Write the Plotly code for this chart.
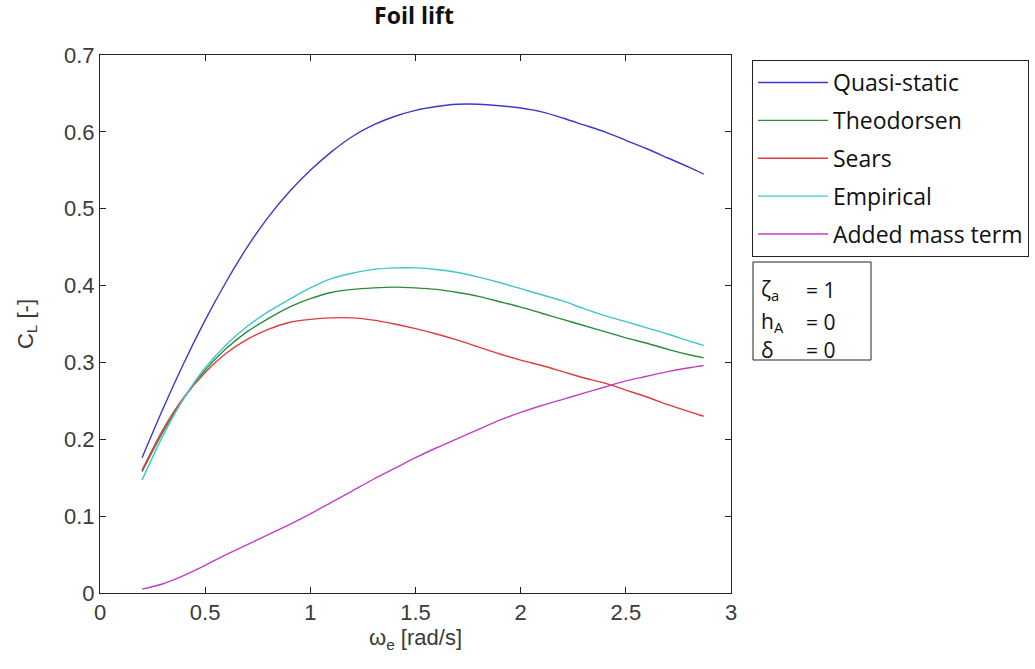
import plotly.graph_objects as go

omega = [0.2, 0.3, 0.4, 0.5, 0.6, 0.7, 0.8, 0.9, 1.0, 1.1, 1.2, 1.3, 1.4, 1.5,
         1.6, 1.7, 1.8, 1.9, 2.0, 2.1, 2.2, 2.3, 2.4, 2.5, 2.6, 2.7, 2.8, 2.87]

quasi_static = [0.176, 0.240, 0.300, 0.355, 0.405, 0.450, 0.489, 0.522, 0.550, 0.574,
                0.594, 0.609, 0.620, 0.628, 0.633, 0.636, 0.636, 0.634, 0.631, 0.626,
                0.618, 0.609, 0.600, 0.589, 0.578, 0.566, 0.554, 0.545]
theodorsen = [0.158, 0.210, 0.254, 0.290, 0.318, 0.340, 0.357, 0.372, 0.383, 0.391,
              0.395, 0.397, 0.398, 0.397, 0.395, 0.391, 0.386, 0.379, 0.372, 0.364,
              0.356, 0.348, 0.340, 0.332, 0.325, 0.317, 0.310, 0.306]
sears = [0.160, 0.213, 0.255, 0.287, 0.312, 0.330, 0.343, 0.352, 0.356, 0.358,
         0.358, 0.355, 0.350, 0.344, 0.337, 0.329, 0.320, 0.311, 0.303, 0.296,
         0.288, 0.280, 0.273, 0.264, 0.255, 0.245, 0.236, 0.230]
empirical = [0.147, 0.205, 0.254, 0.293, 0.323, 0.347, 0.366, 0.382, 0.397, 0.409,
             0.416, 0.421, 0.423, 0.423, 0.421, 0.417, 0.411, 0.404, 0.396, 0.388,
             0.380, 0.370, 0.361, 0.353, 0.345, 0.337, 0.328, 0.322]
added_mass = [0.005, 0.012, 0.023, 0.036, 0.050, 0.063, 0.076, 0.089, 0.103, 0.118,
              0.133, 0.148, 0.162, 0.176, 0.189, 0.201, 0.213, 0.225, 0.235, 0.244,
              0.252, 0.260, 0.268, 0.276, 0.282, 0.288, 0.293, 0.296]

series_names = ["Quasi-static", "Theodorsen", "Sears", "Empirical", "Added mass term"]
series_values = [quasi_static, theodorsen, sears, empirical, added_mass]
series_colors = ["#3a3ac8", "#2f8a3a", "#e03c3c", "#3cc8c8", "#c040c0"]

x_ticks = [0, 0.5, 1, 1.5, 2, 2.5, 3]
x_ticklabels = ["0", "0.5", "1", "1.5", "2", "2.5", "3"]
y_ticks = [0, 0.1, 0.2, 0.3, 0.4, 0.5, 0.6, 0.7]
y_ticklabels = ["0", "0.1", "0.2", "0.3", "0.4", "0.5", "0.6", "0.7"]

param_symbols = ["ζ<sub>a</sub>", "h<sub>A</sub>", "δ"]
param_values = ["= 1", "= 0", "= 0"]

fig = go.Figure()
for name, vals, col in zip(series_names, series_values, series_colors):
    fig.add_trace(go.Scatter(x=omega, y=vals, mode="lines", name=name,
                             legendgroup=name,
                             line=dict(color=col, width=1.4, shape="spline", smoothing=0.8)))

tick_font = dict(family="Liberation Sans", size=22, color="#3a3a3a")
L, R, T, B = 100, 731, 55, 593
W, H = 1035, 669
pw, ph = R - L, B - T


def px(xp):
    return (xp - L) / pw


def py(yp):
    return (B - yp) / ph


fig.update_layout(
    width=W, height=H,
    margin=dict(l=L, r=W - R, t=T, b=H - B, autoexpand=False),
    paper_bgcolor="white", plot_bgcolor="white",
    title=dict(text="Foil lift", x=414 / W, xanchor="center",
               y=1 - 16 / H, yanchor="middle",
               font=dict(family="Open Sans", size=23, color="#111111", weight="bold")),
    xaxis=dict(range=[0, 3], tickvals=x_ticks, ticktext=x_ticklabels,
               showgrid=False, zeroline=False, showline=True, linecolor="#222222",
               linewidth=1, mirror="ticks", ticks="inside", ticklen=6, tickcolor="#222222",
               tickfont=tick_font,
               title=dict(text="ω<sub>e</sub> [rad/s]", font=tick_font, standoff=4)),
    yaxis=dict(range=[0, 0.7], tickvals=y_ticks, ticktext=y_ticklabels,
               showgrid=False, zeroline=False, showline=True, linecolor="#222222",
               linewidth=1, mirror="ticks", ticks="inside", ticklen=6, tickcolor="#222222",
               tickfont=tick_font,
               title=dict(text="C<sub>L</sub> [-]", font=tick_font, standoff=24)),
    legend=dict(x=px(752), y=py(60), xanchor="left", yanchor="top",
                bordercolor="#222222", borderwidth=1, bgcolor="white",
                font=dict(family="Open Sans", size=23, color="#111111"),
                itemwidth=70, tracegroupgap=5, traceorder="grouped"),
    showlegend=True,
)

# parameter box
fig.add_shape(type="rect", xref="paper", yref="paper",
              x0=px(753), x1=px(871), y0=py(360), y1=py(262),
              line=dict(color="#222222", width=1), fillcolor="white")
row_y = [290, 322, 350]
for sym, val, yy in zip(param_symbols, param_values, row_y):
    fig.add_annotation(xref="paper", yref="paper", x=px(759), y=py(yy),
                       text=sym, showarrow=False, xanchor="left", yanchor="middle",
                       font=dict(family="Open Sans", size=21, color="#111111"))
    fig.add_annotation(xref="paper", yref="paper", x=px(804), y=py(yy),
                       text=val, showarrow=False, xanchor="left", yanchor="middle",
                       font=dict(family="Open Sans", size=21, color="#111111"))

fig.write_html("out.html")
